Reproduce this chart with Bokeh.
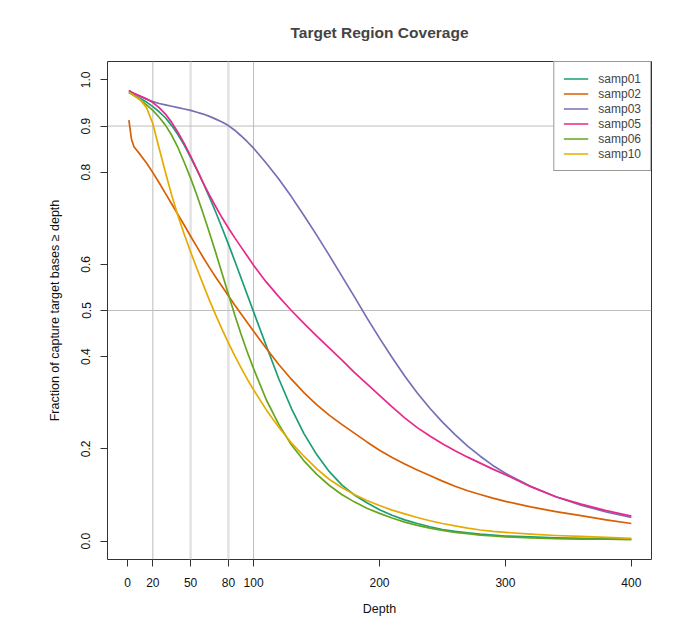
from bokeh.plotting import figure
from bokeh.models import Span, Legend, LegendItem, FixedTicker, Range1d, Title
from bokeh.embed import file_html
from bokeh.resources import INLINE

depth = [1, 3, 5,
         10, 15, 20, 25, 30, 35, 40, 45, 50, 55, 60, 65, 70, 75, 80, 85, 90, 95, 100,
         110, 120, 130, 140, 150, 160, 170, 180, 190, 200, 210, 220, 230, 240, 250,
         260, 270, 280, 290, 300,
         320, 340, 360, 380, 400]

samp01 = [0.973, 0.970, 0.967,
          0.960, 0.952, 0.942, 0.931, 0.918, 0.901, 0.881, 0.858, 0.832, 0.805, 0.776,
          0.745, 0.713, 0.679, 0.644, 0.608, 0.571, 0.534, 0.497,
          0.424, 0.352, 0.288, 0.233, 0.188, 0.151, 0.122, 0.100, 0.083, 0.068, 0.056,
          0.046, 0.038, 0.031, 0.025, 0.021, 0.018, 0.015, 0.013, 0.011,
          0.009, 0.007, 0.006, 0.005, 0.004]
samp02 = [0.913, 0.872, 0.855,
          0.838, 0.820, 0.799, 0.777, 0.754, 0.731, 0.708, 0.685, 0.661, 0.638, 0.615,
          0.593, 0.572, 0.552, 0.532, 0.512, 0.493, 0.474, 0.455,
          0.418, 0.383, 0.351, 0.322, 0.296, 0.273, 0.253, 0.234, 0.215, 0.197, 0.181,
          0.167, 0.154, 0.142, 0.130, 0.119, 0.109, 0.101, 0.093, 0.086,
          0.074, 0.064, 0.055, 0.046, 0.038]
samp03 = [0.977, 0.973, 0.970,
          0.964, 0.958, 0.953, 0.949, 0.946, 0.943, 0.940, 0.937, 0.934, 0.930, 0.926,
          0.921, 0.915, 0.909, 0.901, 0.891, 0.879, 0.866, 0.852,
          0.820, 0.785, 0.747, 0.706, 0.664, 0.620, 0.575, 0.530, 0.484, 0.440, 0.398,
          0.358, 0.321, 0.288, 0.258, 0.231, 0.206, 0.184, 0.164, 0.147,
          0.119, 0.096, 0.078, 0.063, 0.051]
samp05 = [0.977, 0.974, 0.971,
          0.965, 0.959, 0.951, 0.940, 0.926, 0.908, 0.886, 0.862, 0.835, 0.806, 0.777,
          0.750, 0.725, 0.701, 0.679, 0.658, 0.638, 0.618, 0.598,
          0.562, 0.530, 0.500, 0.472, 0.445, 0.419, 0.393, 0.366, 0.341, 0.316, 0.291,
          0.267, 0.246, 0.228, 0.211, 0.196, 0.182, 0.169, 0.156, 0.144,
          0.118, 0.096, 0.080, 0.066, 0.054]
samp06 = [0.973, 0.970, 0.966,
          0.957, 0.946, 0.934, 0.919, 0.902, 0.880, 0.853, 0.821, 0.787, 0.750, 0.710,
          0.668, 0.625, 0.580, 0.535, 0.491, 0.449, 0.410, 0.374,
          0.307, 0.253, 0.209, 0.174, 0.145, 0.121, 0.101, 0.085, 0.071, 0.060, 0.050,
          0.041, 0.034, 0.028, 0.023, 0.019, 0.016, 0.013, 0.011, 0.009,
          0.007, 0.005, 0.004, 0.004, 0.003]
samp10 = [0.973, 0.970, 0.966,
          0.957, 0.940, 0.905, 0.852, 0.800, 0.750, 0.705, 0.665, 0.627, 0.591, 0.556,
          0.522, 0.490, 0.459, 0.430, 0.402, 0.376, 0.351, 0.328,
          0.285, 0.247, 0.213, 0.184, 0.157, 0.134, 0.116, 0.101, 0.088, 0.077, 0.067,
          0.059, 0.051, 0.044, 0.038, 0.033, 0.028, 0.024, 0.021, 0.019,
          0.015, 0.012, 0.010, 0.008, 0.006]

names = ["samp01", "samp02", "samp03", "samp05", "samp06", "samp10"]
series = [samp01, samp02, samp03, samp05, samp06, samp10]
colors = ["#1B9E77", "#D95F02", "#7570B3", "#E7298A", "#66A61E", "#E6AB02"]

x_ticks = [0, 20, 50, 80, 100, 200, 300, 400]
y_ticks = [0.0, 0.2, 0.4, 0.5, 0.6, 0.8, 0.9, 1.0]
vlines_dark = [20, 100]
vlines_light = [50, 80]
hlines = [0.5, 0.9]

FONT = "Liberation Sans"

p = figure(width=673, height=623, output_backend="svg", toolbar_location=None,
           x_range=Range1d(-16, 416), y_range=Range1d(-0.04, 1.04),
           min_border_left=107, min_border_right=22, min_border_top=61,
           min_border_bottom=64)
p.title = None
t = Title(text="Target Region Coverage", align="center", text_font=FONT,
          text_font_size="15.5px", text_font_style="bold", standoff=41)
p.add_layout(t, "above")

p.background_fill_color = "white"
p.border_fill_color = "white"
p.outline_line_color = "#333333"
p.outline_line_width = 1
p.xgrid.visible = False
p.ygrid.visible = False

for loc in vlines_dark:
    p.add_layout(Span(location=loc, dimension="height", line_color="#bdbdbd",
                      line_width=1, level="underlay"))
for loc in vlines_light:
    p.add_layout(Span(location=loc, dimension="height", line_color="#e3e3e3",
                      line_width=2.5, level="underlay"))
for loc in hlines:
    p.add_layout(Span(location=loc, dimension="width", line_color="#bdbdbd",
                      line_width=1, level="underlay"))

items = []
for name, ys, c in zip(names, series, colors):
    r = p.line(depth, ys, line_color=c, line_width=1.7, line_join="round")
    items.append(LegendItem(label=name, renderers=[r]))

for ax in (p.xaxis[0], p.yaxis[0]):
    ax.axis_line_color = None
    ax.major_tick_line_color = "#333333"
    ax.major_tick_out = 7
    ax.major_tick_in = 0
    ax.minor_tick_line_color = None
    ax.major_label_text_font = FONT
    ax.major_label_text_font_size = "12px"
    ax.major_label_text_color = "#111111"
    ax.axis_label_text_font = FONT
    ax.axis_label_text_font_size = "12.5px"
    ax.axis_label_text_font_style = "normal"
    ax.axis_label_text_color = "#111111"

p.xaxis[0].ticker = FixedTicker(ticks=x_ticks)
p.yaxis[0].ticker = FixedTicker(ticks=y_ticks)
p.xaxis[0].major_label_overrides = {v: str(v) for v in x_ticks}
p.yaxis[0].major_label_overrides = {v: "%.1f" % v for v in y_ticks}
p.yaxis[0].major_label_orientation = "vertical"
p.xaxis[0].axis_label = "Depth"
p.yaxis[0].axis_label = "Fraction of capture target bases \u2265 depth"
p.xaxis[0].major_label_standoff = 11
p.xaxis[0].axis_label_standoff = 12
p.yaxis[0].major_label_standoff = 10
p.yaxis[0].axis_label_standoff = 17

legend = Legend(items=items, location="top_right", margin=0, padding=9,
                spacing=0, glyph_width=25, glyph_height=15, label_height=15,
                label_standoff=10, label_text_font=FONT, label_text_font_size="12px",
                border_line_color="#333333", border_line_width=1,
                background_fill_color="white", background_fill_alpha=1.0)
p.add_layout(legend)

open("out.html", "w").write(file_html(p, INLINE))
